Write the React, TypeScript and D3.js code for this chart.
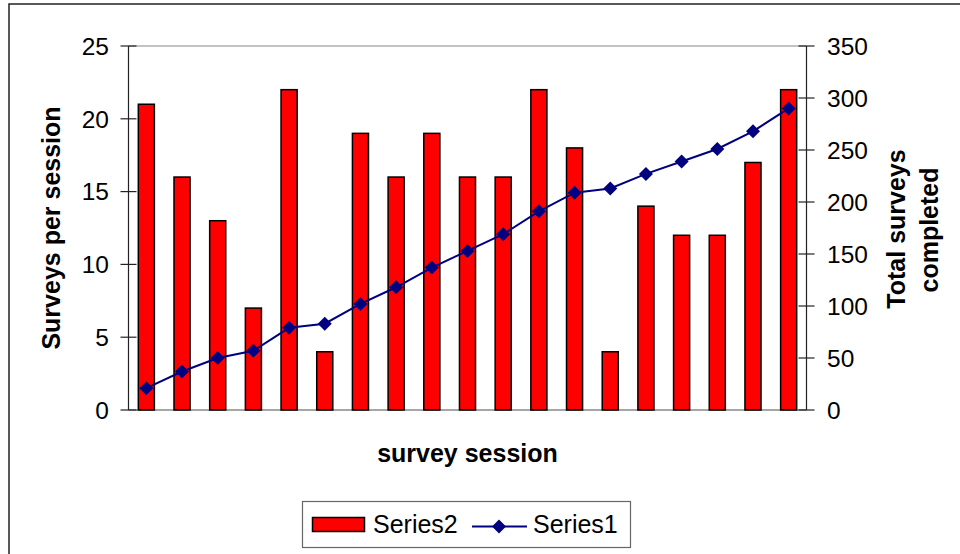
import React from "react";
import * as d3 from "d3";

const sessions = ["1","2","3","4","5","6","7","8","9","10","11","12","13","14","15","16","17","18","19"];
const series2 = [21, 16, 13, 7, 22, 4, 19, 16, 19, 16, 16, 22, 18, 4, 14, 12, 12, 17, 22];
const series1 = [21, 37, 50, 57, 79, 83, 102, 118, 137, 153, 169, 191, 209, 213, 227, 239, 251, 268, 290];
const leftTicks = [0, 5, 10, 15, 20, 25];
const rightTicks = [0, 50, 100, 150, 200, 250, 300, 350];

const W = 960;
const H = 554;
const plotL = 128.5;
const plotR = 806.5;
const plotT = 46;
const plotB = 410;
const FONT = "'Liberation Sans', Arial, Helvetica, sans-serif";

export default function App() {
  const x = d3.scaleBand<string>().domain(sessions).range([plotL, plotR]).padding(0);
  const yL = d3.scaleLinear().domain([0, 25]).range([plotB, plotT]);
  const yR = d3.scaleLinear().domain([0, 350]).range([plotB, plotT]);
  const bw = x.bandwidth() * 0.45;
  const cx = (s: string) => (x(s) as number) + x.bandwidth() / 2;

  const linePath = d3
    .line<number>()
    .x((_, i) => cx(sessions[i]))
    .y((d) => yR(d))(series1) as string;

  const diamond = (px: number, py: number, r: number) =>
    `M${px},${py - r}L${px + r},${py}L${px},${py + r}L${px - r},${py}Z`;

  return (
    <svg
      width={W}
      height={H}
      style={{ position: "absolute", left: 0, top: 0, background: "#fff" }}
      fontFamily={FONT}
    >
      <rect x={0} y={0} width={W} height={H} fill="#fff" />
      {/* outer chart frame (cropped on right/bottom) */}
      <rect x={9} y={4} width={1000} height={700} fill="none" stroke="#222" strokeWidth={1.5} />

      {/* plot area frame */}
      <line x1={plotL} x2={plotR} y1={plotT} y2={plotT} stroke="#888" strokeWidth={1.2} />
      <line x1={plotL} x2={plotR} y1={plotB} y2={plotB} stroke="#888" strokeWidth={1.5} />

      {/* bars */}
      {series2.map((v, i) => (
        <rect
          key={"b" + i}
          x={cx(sessions[i]) - bw / 2}
          y={yL(v)}
          width={bw}
          height={yL(0) - yL(v)}
          fill="#FF0000"
          stroke="#000"
          strokeWidth={1.5}
        />
      ))}

      {/* left axis */}
      <line x1={plotL} x2={plotL} y1={plotT} y2={plotB} stroke="#222" strokeWidth={1.2} />
      {leftTicks.map((t) => (
        <g key={"lt" + t}>
          <line x1={plotL - 8} x2={plotL + 8} y1={yL(t)} y2={yL(t)} stroke="#222" strokeWidth={1.2} />
          <text x={109} y={yL(t)} dy="0.36em" textAnchor="end" fontSize={24.5} fill="#000">
            {t}
          </text>
        </g>
      ))}

      {/* right axis */}
      <line x1={plotR} x2={plotR} y1={plotT} y2={plotB} stroke="#222" strokeWidth={1.2} />
      {rightTicks.map((t) => (
        <g key={"rt" + t}>
          <line x1={plotR - 8} x2={plotR + 8} y1={yR(t)} y2={yR(t)} stroke="#222" strokeWidth={1.2} />
          <text x={827} y={yR(t)} dy="0.36em" textAnchor="start" fontSize={24.5} fill="#000">
            {t}
          </text>
        </g>
      ))}

      {/* line series */}
      <path d={linePath} fill="none" stroke="#000080" strokeWidth={2} />
      {series1.map((v, i) => (
        <path key={"m" + i} d={diamond(cx(sessions[i]), yR(v), 7)} fill="#000080" />
      ))}

      {/* axis titles */}
      <text
        transform={`translate(60,228) rotate(-90)`}
        textAnchor="middle"
        fontSize={25}
        fontWeight="bold"
        fill="#000"
      >
        Surveys per session
      </text>
      <text
        transform={`translate(905,229) rotate(-90)`}
        textAnchor="middle"
        fontSize={25}
        fontWeight="bold"
        fill="#000"
      >
        Total surveys
      </text>
      <text
        transform={`translate(938,230) rotate(-90)`}
        textAnchor="middle"
        fontSize={25}
        fontWeight="bold"
        fill="#000"
      >
        completed
      </text>
      <text x={(plotL + plotR) / 2} y={462} textAnchor="middle" fontSize={25} fontWeight="bold" fill="#000">
        survey session
      </text>

      {/* legend */}
      <rect x={302.5} y={501.5} width={328} height={46} fill="#fff" stroke="#666" strokeWidth={1.2} />
      <rect x={312.5} y={517.5} width={52} height={14} fill="#FF0000" stroke="#000" strokeWidth={1.5} />
      <text x={373} y={533} fontSize={25} fill="#000">
        Series2
      </text>
      <line x1={472} x2={527} y1={526.5} y2={526.5} stroke="#000080" strokeWidth={2} />
      <path d={diamond(499, 526.5, 7)} fill="#000080" />
      <text x={533} y={533} fontSize={25} fill="#000">
        Series1
      </text>
    </svg>
  );
}
